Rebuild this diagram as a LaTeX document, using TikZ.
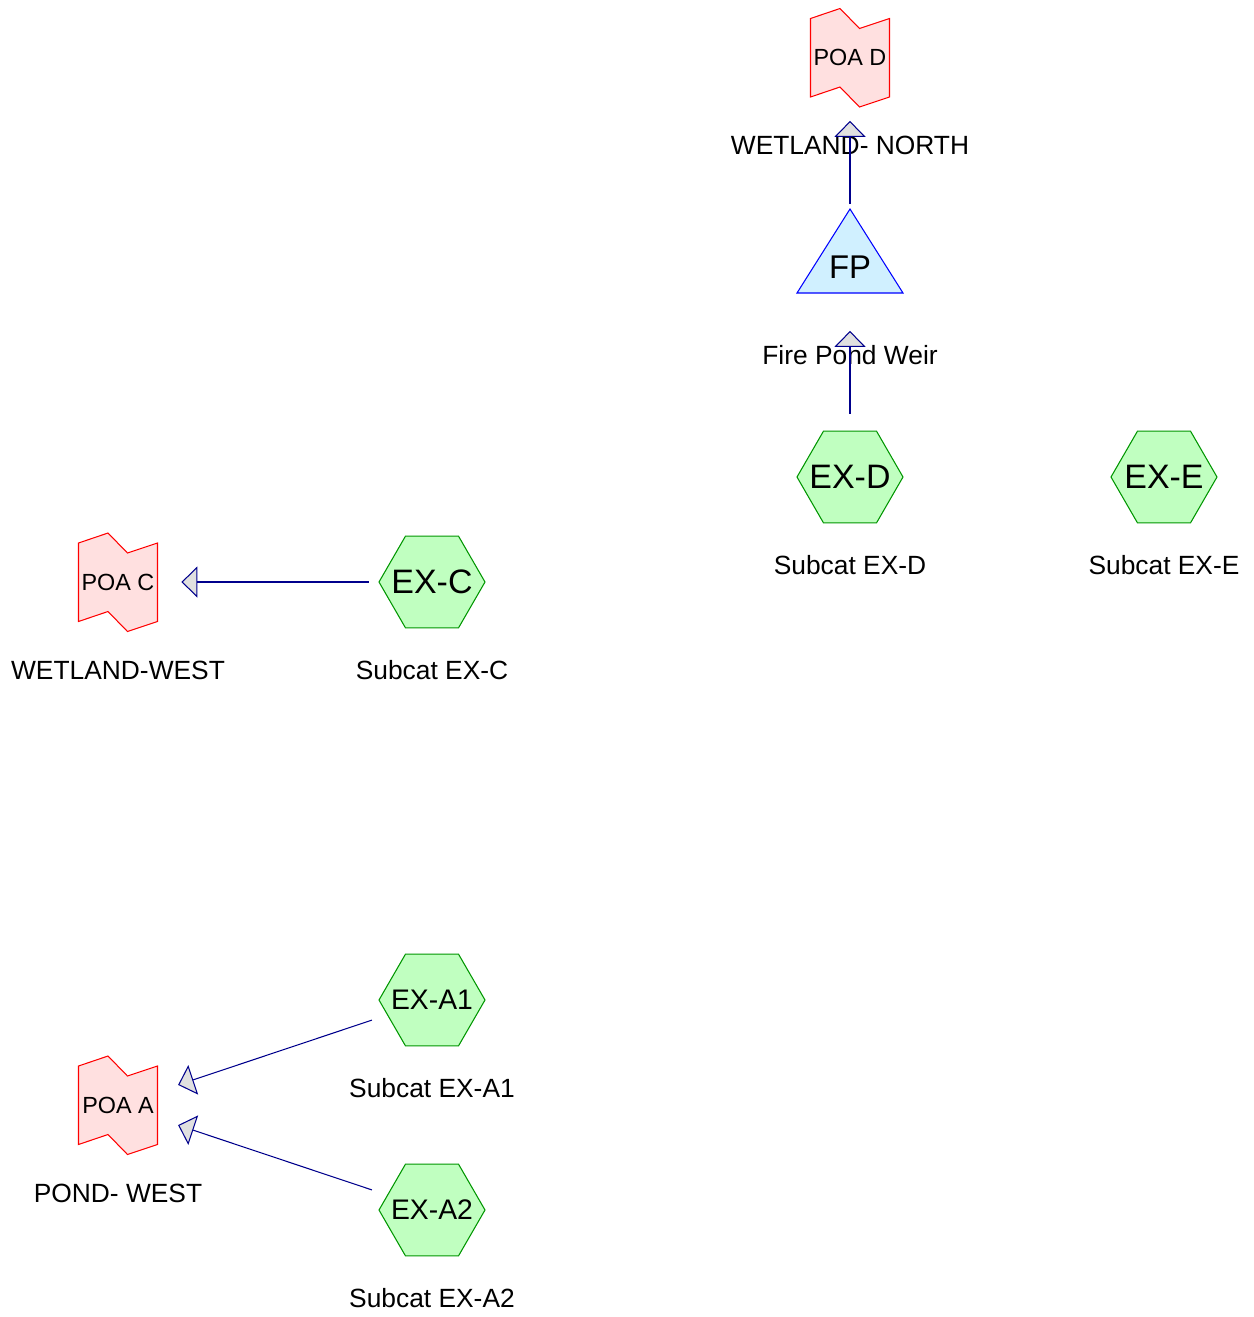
\documentclass[tikz,border=0pt]{standalone}
\usepackage{fontspec}
\setmainfont{Liberation Sans}
\usetikzlibrary{arrows.meta}

\definecolor{poaline}{RGB}{255,0,0}
\definecolor{poafill}{RGB}{255,224,224}
\definecolor{catline}{RGB}{0,150,0}
\definecolor{catfill}{RGB}{192,255,192}
\definecolor{pondline}{RGB}{0,0,255}
\definecolor{pondfill}{RGB}{208,240,255}
\definecolor{flowline}{RGB}{0,0,140}
\definecolor{headfill}{RGB}{224,224,224}

\begin{document}
\begin{tikzpicture}[
    hub/.style={circle,minimum size=2.52cm,inner sep=0},
    tag/.style={anchor=base,yshift=-0.68cm,font=\fontsize{15}{18}\selectfont},
    subcat/.style={hub,font=\fontsize{19.3}{23}\selectfont,path picture={
        \draw[catline,fill=catfill,line width=0.6pt] (path picture bounding box.center) ++(1.06,0)
          -- ++(120:1.06) -- ++(180:1.06) -- ++(240:1.06) -- ++(300:1.06) -- ++(0:1.06) -- cycle;}},
    poa/.style={hub,font=\fontsize{13.3}{16}\selectfont,path picture={
        \draw[poaline,fill=poafill,line width=0.6pt] (path picture bounding box.center) ++(-0.79,0.78)
          -- ++(0.59,0.2) -- ++(0.39,-0.4) -- ++(0.6,0.2) -- ++(0,-1.57)
          -- ++(-0.6,-0.2) -- ++(-0.39,0.4) -- ++(-0.59,-0.2) -- cycle;}},
    pond/.style={hub,font=\fontsize{18.7}{22}\selectfont,path picture={
        \draw[pondline,fill=pondfill,line width=0.6pt] (path picture bounding box.center) ++(0,1.17)
          -- ++(1.06,-1.68) -- ++(-2.12,0) -- cycle;}},
    flow/.style={draw=flowline,line width=0.6pt,-{Triangle[length=0.32cm,width=0.62cm,fill=headfill]}}]
        \useasboundingbox (0,0) rectangle (25.08,-26.34);
        % top group
        \node[poa,label={[tag]below:WETLAND- NORTH}] (poaD) at (17,-1.15) {POA D};
        \node[pond,label={[tag]below:Fire Pond Weir}] (fp) at (17,-5.35) {FP};
        \node[subcat,label={[tag]below:Subcat EX-D}] (exD) at (17,-9.54) {EX-D};
        \node[subcat,label={[tag]below:Subcat EX-E}] (exE) at (23.28,-9.54) {EX-E};
        % west
        \node[poa,label={[tag]below:WETLAND-WEST}] (poaC) at (2.36,-11.64) {POA C};
        \node[subcat,label={[tag]below:Subcat EX-C}] (exC) at (8.64,-11.64) {EX-C};
        % pond west
        \node[poa,label={[tag]below:POND- WEST}] (poaA) at (2.36,-22.1) {POA A};
        \node[subcat,font=\fontsize{16.1}{19}\selectfont,label={[tag]below:Subcat EX-A1}] (exA1) at (8.64,-20) {EX-A1};
        \node[subcat,font=\fontsize{16.1}{19}\selectfont,label={[tag]below:Subcat EX-A2}] (exA2) at (8.64,-24.2) {EX-A2};
        \draw[flow] (fp) -- (poaD);
        \draw[flow] (exD) -- (fp);
        \draw[flow] (exC) -- (poaC);
        \draw[flow] (exA1) -- (poaA);
        \draw[flow] (exA2) -- (poaA);
\end{tikzpicture}
\end{document}
